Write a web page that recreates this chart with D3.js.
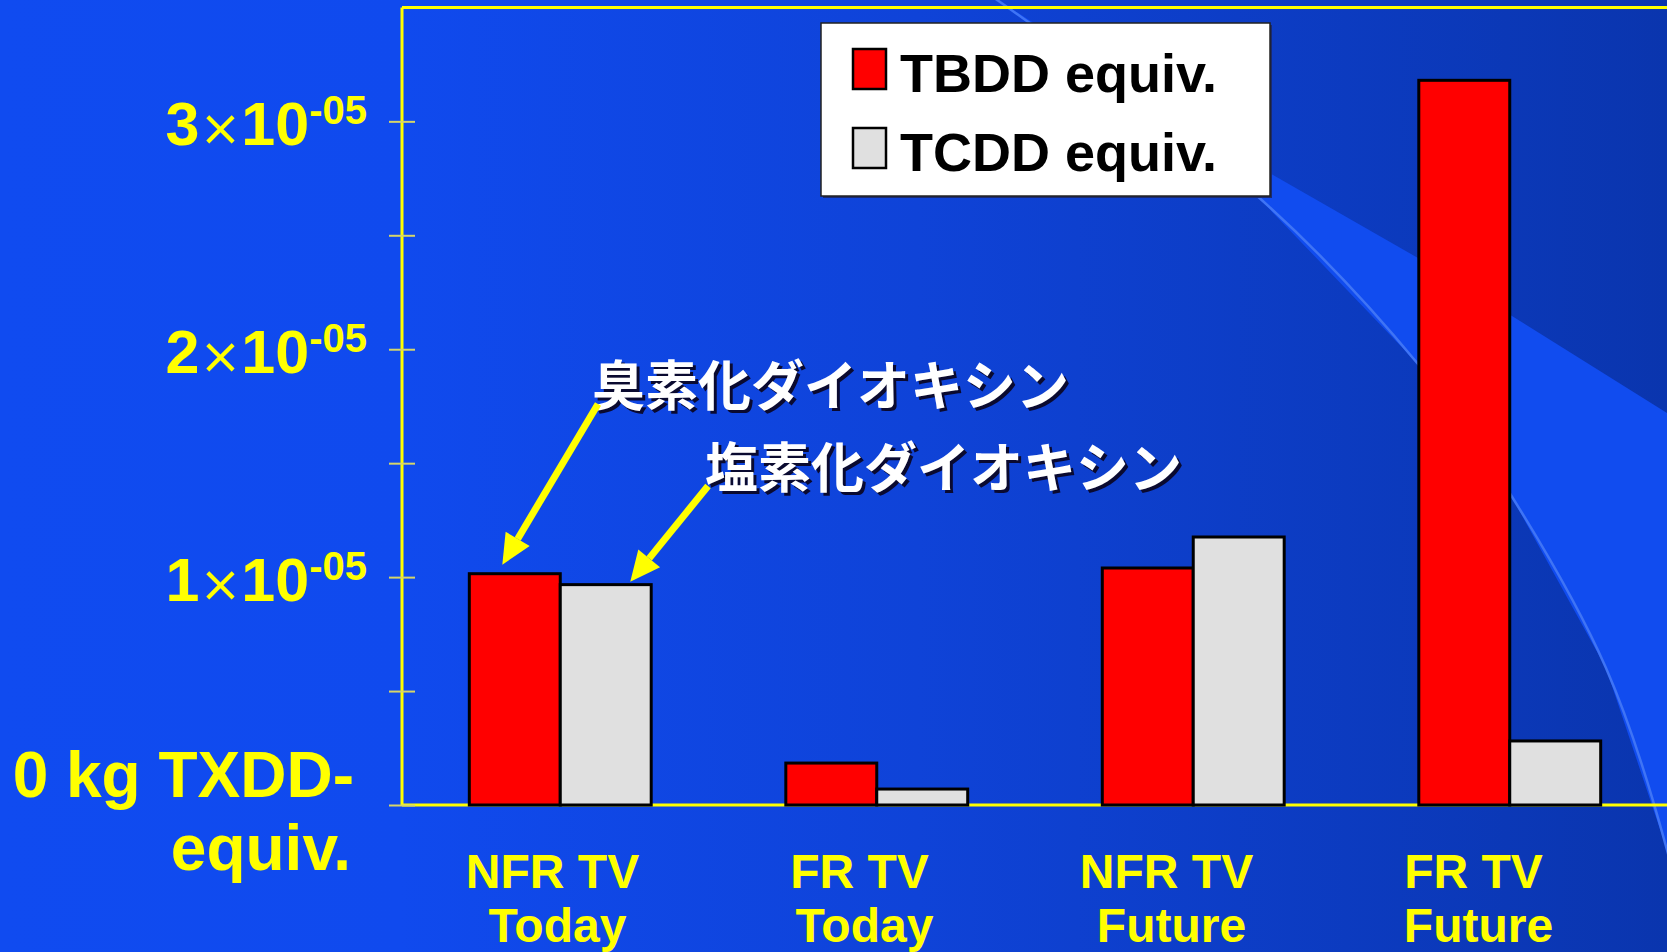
<!DOCTYPE html>
<html>
<head>
<meta charset="utf-8">
<script src="https://cdn.jsdelivr.net/npm/d3@7"></script>
<style>
  html, body { margin: 0; padding: 0; overflow: hidden; background: #104BF0; }
  svg { display: block; }
</style>
</head>
<body>
<svg id="chart" width="1667" height="952"></svg>
<script>
// ---- data ----
const categories = ["NFR TV|Today", "FR TV|Today", "NFR TV|Future", "FR TV|Future"];
const seriesNames = ["TBDD equiv.", "TCDD equiv."];
const tbddValues = [1.015e-5, 0.184e-5, 1.040e-5, 3.18e-5];
const tcddValues = [0.967e-5, 0.070e-5, 1.176e-5, 0.281e-5];
const majorTicks = [0, 1e-5, 2e-5, 3e-5];
const minorTicks = [0.5e-5, 1.5e-5, 2.5e-5];
const tickMantissa = ["0", "1", "2", "3"];
const tickExponent = "-05";
const zeroLabel = ["0 kg TXDD-", "equiv."];
const annotations = ["臭素化ダイオキシン", "塩素化ダイオキシン"];
const seriesColors = ["#FF0000", "#E0E0E0"];

const W = 1667, H = 952;
const svg = d3.select("#chart");
const defs = svg.append("defs");

// ---- slide background ----
const bg = defs.append("linearGradient").attr("id", "bgGrad")
  .attr("gradientUnits", "userSpaceOnUse").attr("x1", 0).attr("y1", 0).attr("x2", W).attr("y2", 0);
bg.append("stop").attr("offset", "0%").attr("stop-color", "#104BF0");
bg.append("stop").attr("offset", "24%").attr("stop-color", "#104AEE");
bg.append("stop").attr("offset", "55%").attr("stop-color", "#0F43D8");
bg.append("stop").attr("offset", "100%").attr("stop-color", "#0A35AE");
svg.append("rect").attr("width", W).attr("height", H).attr("fill", "url(#bgGrad)");

// light swoosh across the right side
const arc = [[990, -5], [1255, 194], [1418, 364], [1509, 492], [1606, 668], [1667, 850], [1690, 960]];
const upper = [[990, -5], [1259, 167], [1418, 258], [1512, 316], [1667, 413], [1700, 430]];
const curve = d3.line().curve(d3.curveCatmullRom.alpha(0.5));
const wedge = upper.concat([[1700, 960]], arc.slice().reverse());
svg.append("path").attr("d", d3.line()(wedge)).attr("fill", "#114CEF");
svg.append("path").attr("d", curve(arc)).attr("fill", "none")
  .attr("stroke", "#3F74F5").attr("stroke-width", 2.5);

// ---- scales ----
const x = d3.scaleBand().domain(categories).range([402, 1668])
  .paddingInner(0.4253).paddingOuter(0.2127);
const xs = d3.scaleBand().domain([0, 1]).range([0, x.bandwidth()]);
// category captions sit on a slightly tighter pitch than the bar groups
const xLabel = d3.scaleBand().domain(categories).range([402, 1630]);
const y = d3.scaleLinear().domain([0, 3.5e-5]).range([805, 7.4]);

// ---- baseline and frame ----
const frame = svg.append("g").attr("stroke", "#FFFF00").attr("stroke-width", 3).attr("fill", "none");
frame.append("line").attr("x1", 402).attr("x2", W + 5).attr("y1", y.range()[1]).attr("y2", y.range()[1]);
frame.append("line").attr("x1", 402).attr("x2", 402).attr("y1", y.range()[1]).attr("y2", y(0));
frame.append("line").attr("x1", 402).attr("x2", W + 5).attr("y1", y(0)).attr("y2", y(0));

// ---- bars ----
const rows = categories.map((c, i) => ({ cat: c, vals: [tbddValues[i], tcddValues[i]] }));
const groups = svg.append("g").selectAll("g").data(rows).join("g")
  .attr("transform", d => `translate(${x(d.cat)},0)`);
groups.selectAll("rect").data(d => d.vals.map((v, k) => ({ v, k }))).join("rect")
  .attr("x", d => xs(d.k))
  .attr("y", d => y(d.v))
  .attr("width", xs.bandwidth())
  .attr("height", d => y(0) - y(d.v))
  .attr("fill", d => seriesColors[d.k])
  .attr("stroke", "#000").attr("stroke-width", 3);

// ---- y axis ticks (crossing the axis line) ----
const axis = d3.axisLeft(y).tickValues(majorTicks.concat(minorTicks)).tickSize(13).tickFormat("");
const ax = svg.append("g").attr("transform", "translate(402,0)").call(axis);
ax.select(".domain").remove();
ax.selectAll(".tick line").attr("x1", -13).attr("x2", 13)
  .attr("stroke", "#D6D66A").attr("stroke-width", 2);

// ---- y tick labels ----
const latin = "'Liberation Sans', Arial, sans-serif";
const yl = svg.append("g").attr("fill", "#FFFF00").attr("font-family", latin).attr("font-weight", "bold");
majorTicks.forEach((t, i) => {
  if (t === 0) {
    const tx = yl.append("text").attr("text-anchor", "end").attr("font-size", 64);
    tx.append("tspan").attr("x", 354).attr("y", y(t) - 8).text(zeroLabel[0]);
    tx.append("tspan").attr("x", 351).attr("y", y(t) + 65).text(zeroLabel[1]);
  } else {
    const tx = yl.append("text").attr("text-anchor", "end").attr("x", 367).attr("y", y(t) + 24);
    tx.append("tspan").attr("font-size", 61).text(tickMantissa[i]);
    tx.append("tspan").attr("font-size", 50).attr("font-family", "'DejaVu Sans', sans-serif")
      .attr("font-weight", "normal").text("\u00D7");
    tx.append("tspan").attr("font-size", 61).text("10");
    tx.append("tspan").attr("font-size", 40).attr("dy", -21).text(tickExponent);
  }
});

// ---- category labels ----
const xl = svg.append("g").attr("fill", "#FFFF00").attr("font-family", latin)
  .attr("font-weight", "bold").attr("font-size", 48).attr("text-anchor", "middle");
categories.forEach(c => {
  const [a, b] = c.split("|");
  const cx = xLabel(c) + xLabel.bandwidth() / 2;
  const t = xl.append("text");
  t.append("tspan").attr("x", cx - 3).attr("y", 888).text(a);
  t.append("tspan").attr("x", cx + 2).attr("y", 942).text(b);
});

// ---- legend ----
const lg = svg.append("g");
lg.append("rect").attr("x", 823).attr("y", 25).attr("width", 449).attr("height", 173).attr("fill", "#1a2a70");
lg.append("rect").attr("x", 821).attr("y", 23).attr("width", 449).attr("height", 173)
  .attr("fill", "#FFFFFF").attr("stroke", "#222").attr("stroke-width", 1.5);
seriesNames.forEach((s, i) => {
  const top = i === 0 ? 49 : 128;
  lg.append("rect").attr("x", 853).attr("y", top).attr("width", 33).attr("height", 40)
    .attr("fill", seriesColors[i]).attr("stroke", "#000").attr("stroke-width", 2.5);
  lg.append("text").attr("x", 900).attr("y", top + 43)
    .attr("font-family", latin).attr("font-weight", "bold").attr("font-size", 54)
    .attr("fill", "#000").text(s);
});

// ---- annotations with arrows ----
const jp = "'Noto Sans CJK JP', 'Noto Sans CJK SC', sans-serif";
const notes = [
  { text: annotations[0], x: 592, y: 382, from: [598, 404],
    to: [x(categories[0]) + xs(0) + 33, y(tbddValues[0]) - 9] },
  { text: annotations[1], x: 705, y: 464, from: [708, 486],
    to: [x(categories[0]) + xs(1) + 70, y(tcddValues[0]) - 3] }
];
const an = svg.append("g");
notes.forEach(n => {
  [["#0a0a30", 3], ["#FFFFFF", 0]].forEach(([col, off]) => {
    an.append("text").attr("x", n.x + off).attr("y", n.y + off)
      .attr("dominant-baseline", "central")
      .attr("font-family", jp).attr("font-weight", 700).attr("font-size", 54)
      .attr("textLength", 477).attr("lengthAdjust", "spacingAndGlyphs")
      .attr("fill", col).text(n.text);
  });
  const [x0, y0] = n.from, [x1, y1] = n.to;
  const ang = Math.atan2(y1 - y0, x1 - x0);
  const hl = 30, hw = 14;
  const bx = x1 - hl * Math.cos(ang), by = y1 - hl * Math.sin(ang);
  an.append("line").attr("x1", x0).attr("y1", y0).attr("x2", bx).attr("y2", by)
    .attr("stroke", "#FFFF00").attr("stroke-width", 7);
  const px = -Math.sin(ang) * hw, py = Math.cos(ang) * hw;
  an.append("path").attr("d", d3.line()([[x1, y1], [bx + px, by + py], [bx - px, by - py]]) + "Z")
    .attr("fill", "#FFFF00");
});
</script>
</body>
</html>
